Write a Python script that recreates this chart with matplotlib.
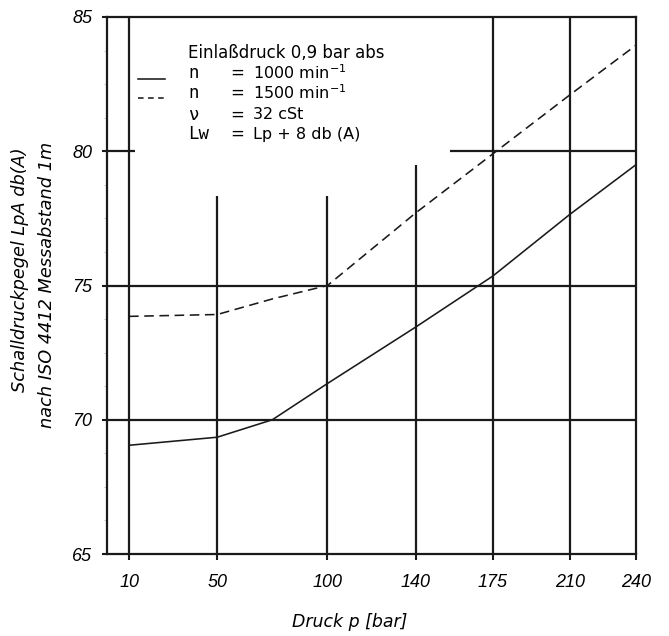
import numpy as np
import matplotlib
matplotlib.use('Agg')
import matplotlib.pyplot as plt
from matplotlib.ticker import MultipleLocator

plt.rcParams['font.family'] = ['DejaVu Sans']
plt.rcParams['mathtext.default'] = 'regular'

# data
druck = [10, 50, 75, 100, 140, 175, 210, 240]
lp_1000 = [69.05, 69.35, 70.0, 71.35, 73.45, 75.35, 77.65, 79.5]
druck_1500 = [10, 50, 75, 100, 140, 175, 210, 240]
lp_1500 = [73.85, 73.92, 74.5, 75.0, 77.7, 79.9, 82.1, 83.95]

x_ticks = [10, 50, 100, 140, 175, 210, 240]
y_ticks = [65, 70, 75, 80, 85]

# grid lines as drawn in the original sheet
v_grid_x = [10, 50, 100, 140, 175, 210]
v_grid_top = [85, 78.35, 78.35, 79.5, 85, 85]
h_grid_y = [70, 75]
h80_segments = [(0, 12.7), (155.6, 240)]

legend_rows = [('n', '1000 min$^{-1}$'),
               ('n', '1500 min$^{-1}$'),
               ('\u03bd', '32 cSt'),
               ('Lw', 'Lp + 8 db (A)')]

fig = plt.figure(figsize=(6.69, 6.36), dpi=100)
ax = fig.add_axes([0.160, 0.1289, 0.7907, 0.8444])

ink = '#1a1a1a'
lw_grid = 1.6
for x, top in zip(v_grid_x, v_grid_top):
    ax.plot([x, x], [65, top], color=ink, lw=lw_grid, solid_capstyle='butt')
for y in h_grid_y:
    ax.plot([0, 240], [y, y], color=ink, lw=lw_grid, solid_capstyle='butt')
for x0, x1 in h80_segments:
    ax.plot([x0, x1], [80, 80], color=ink, lw=lw_grid, solid_capstyle='butt')

ax.plot(druck, lp_1000, color=ink, lw=1.15)
ax.plot(druck_1500, lp_1500, color=ink, lw=1.15, dashes=(6, 3.5))

ax.set_xlim(0, 240)
ax.set_ylim(65, 85)
for s in ax.spines.values():
    s.set_linewidth(lw_grid)
    s.set_color(ink)

tick_font = dict(family='Liberation Sans', fontstyle='italic', fontsize=13)
ax.set_xticks(x_ticks)
ax.set_xticklabels([str(v) for v in x_ticks], **tick_font)
ax.set_yticks(y_ticks)
ax.set_yticklabels([str(v) for v in y_ticks], **tick_font)
ax.yaxis.set_minor_locator(MultipleLocator(1.25))
ax.tick_params(axis='x', direction='out', length=4.5, width=1.5, pad=10, color=ink)
ax.tick_params(axis='y', which='major', direction='out', length=3.5, width=1.5, pad=7, color=ink)
ax.tick_params(axis='y', which='minor', direction='out', length=2.5, width=0.5, color='#aaaaaa')

ax.set_xlabel('Druck p [bar]', fontstyle='italic', fontsize=12.5, va='center')
ax.xaxis.set_label_coords(0.459, -0.1266)

# two-line y label, each line placed where it sits in the original
fig.text(20 / 669, 1 - 270 / 636, 'Schalldruckpegel LpA db(A)', rotation=90,
         fontstyle='italic', fontsize=12.8, ha='center', va='center')
fig.text(47.5 / 669, 1 - 285 / 636, 'nach ISO 4412 Messabstand 1m', rotation=90,
         fontstyle='italic', fontsize=12.8, ha='center', va='center')

# legend block in the upper left
ax.text(0.153, 0.9335, 'Einla\u00dfdruck 0,9 bar abs', transform=ax.transAxes,
        fontsize=12, va='center', ha='left')
row_y = [0.8957, 0.8585, 0.8175, 0.7821]
for (sym, val), y in zip(legend_rows, row_y):
    ax.text(0.153, y, sym, transform=ax.transAxes, fontsize=12.5,
            family='DejaVu Sans Mono', va='center', ha='left')
    ax.text(0.2325, y, '=', transform=ax.transAxes, fontsize=12, va='center', ha='left')
    ax.text(0.276, y, val, transform=ax.transAxes, fontsize=11.5, va='center', ha='left')
ax.plot([0.0586, 0.1096], [0.8845, 0.8845], transform=ax.transAxes,
        color=ink, lw=1.15)
ax.plot([0.0586, 0.1096], [0.849, 0.849], transform=ax.transAxes,
        color=ink, lw=1.15, dashes=(3.5, 2.8))

fig.savefig('out.png', dpi=100)
